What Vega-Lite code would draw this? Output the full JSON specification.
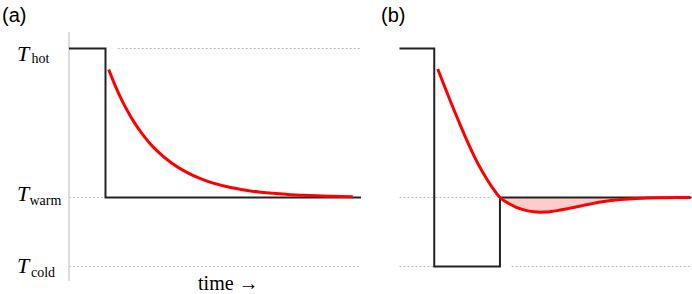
{
  "$schema": "https://vega.github.io/schema/vega-lite/v6.json",
  "padding": 0,
  "autosize": {"type": "pad"},
  "background": "white",
  "spacing": 0,
  "bounds": "flush",
  "config": {"view": {"stroke": null}},
  "datasets": {
    "stepA": [{"t": 0, "v": 1}, {"t": 1.25, "v": 0}, {"t": 10, "v": 0}],
    "stepB": [{"t": 0, "v": 1}, {"t": 1.19, "v": -0.463}, {"t": 3.44, "v": 0}, {"t": 10, "v": 0}],
    "guidesA": [{"t": 1.67, "t2": 10, "v": 1}, {"t": 0, "t2": 1.25, "v": 0}, {"t": 0, "t2": 10, "v": -0.463}],
    "guidesB": [{"t": 0, "t2": 3.1, "v": 0}, {"t": 0, "t2": 1.19, "v": -0.463}, {"t": 3.84, "t2": 10, "v": -0.463}],
    "axisA": [{"t": 0, "v": 1.111, "v2": -0.56}],
    "levels": [{"sub": "hot", "v": 1}, {"sub": "warm", "v": 0}, {"sub": "cold", "v": -0.463}],
    "redA": [
      {"t": 1.36, "v": 0.859}, {"t": 1.6, "v": 0.742}, {"t": 1.8, "v": 0.657}, {"t": 2.0, "v": 0.582},
      {"t": 2.25, "v": 0.499}, {"t": 2.5, "v": 0.429}, {"t": 2.75, "v": 0.368}, {"t": 3.0, "v": 0.316},
      {"t": 3.5, "v": 0.233}, {"t": 4.0, "v": 0.172}, {"t": 4.5, "v": 0.127}, {"t": 5.0, "v": 0.093},
      {"t": 5.5, "v": 0.069}, {"t": 6.0, "v": 0.051}, {"t": 6.5, "v": 0.037}, {"t": 7.0, "v": 0.028},
      {"t": 7.5, "v": 0.02}, {"t": 8.0, "v": 0.015}, {"t": 8.5, "v": 0.011}, {"t": 9.0, "v": 0.008},
      {"t": 9.72, "v": 0.005}
    ],
    "redB": [
      {"t": 1.31, "v": 0.862}, {"t": 1.55, "v": 0.742}, {"t": 1.82, "v": 0.609}, {"t": 2.05, "v": 0.501},
      {"t": 2.3, "v": 0.386}, {"t": 2.6, "v": 0.26}, {"t": 2.87, "v": 0.162}, {"t": 3.15, "v": 0.075},
      {"t": 3.44, "v": 0.0}, {"t": 3.6, "v": -0.024}, {"t": 3.8, "v": -0.047}, {"t": 4.0, "v": -0.066},
      {"t": 4.2, "v": -0.08}, {"t": 4.4, "v": -0.09}, {"t": 4.6, "v": -0.096}, {"t": 4.8, "v": -0.099},
      {"t": 5.0, "v": -0.098}, {"t": 5.2, "v": -0.094}, {"t": 5.4, "v": -0.088}, {"t": 5.6, "v": -0.081},
      {"t": 5.8, "v": -0.073}, {"t": 6.0, "v": -0.065}, {"t": 6.3, "v": -0.053}, {"t": 6.6, "v": -0.041},
      {"t": 7.0, "v": -0.027}, {"t": 7.5, "v": -0.015}, {"t": 8.0, "v": -0.008}, {"t": 8.5, "v": -0.004},
      {"t": 9.0, "v": -0.0015}, {"t": 9.5, "v": -0.0005}, {"t": 9.95, "v": 0}
    ],
    "titles": [{"label": "(a)"}],
    "titlesB": [{"label": "(b)"}],
    "xlabel": [{"label": "time →"}]
  },
  "hconcat": [
    {
      "width": 380,
      "height": 294,
      "layer": [
        {"data": {"name": "guidesA"}, "mark": {"type": "rule", "color": "#bbbbbb", "strokeWidth": 1, "strokeDash": [2, 2]},
         "encoding": {
           "x": {"field": "t", "type": "quantitative", "axis": null, "scale": {"domain": [-2.363, 10.651], "nice": false, "zero": false}},
           "x2": {"field": "t2"},
           "y": {"field": "v", "type": "quantitative", "axis": null, "scale": {"domain": [-0.6477, 1.3255], "nice": false, "zero": false}}
         }},
        {"data": {"name": "axisA"}, "mark": {"type": "rule", "color": "#dddddd", "strokeWidth": 2},
         "encoding": {
           "x": {"field": "t", "type": "quantitative"},
           "y": {"field": "v", "type": "quantitative"},
           "y2": {"field": "v2"}
         }},
        {"data": {"name": "stepA"}, "mark": {"type": "line", "interpolate": "step-after", "color": "#222222", "strokeWidth": 2},
         "encoding": {"x": {"field": "t", "type": "quantitative"}, "y": {"field": "v", "type": "quantitative"}}},
        {"data": {"name": "redA"}, "mark": {"type": "line", "interpolate": "monotone", "color": "#ff0000", "strokeWidth": 3},
         "encoding": {"x": {"field": "t", "type": "quantitative"}, "y": {"field": "v", "type": "quantitative"}}},
        {"data": {"name": "levels"}, "transform": [{"filter": "datum.sub === 'hot'"}],
         "mark": {"type": "text", "font": "Liberation Serif", "fontStyle": "italic", "fontSize": 22, "align": "left", "baseline": "alphabetic", "dx": -52, "dy": 13, "color": "black"},
         "encoding": {"x": {"datum": 0, "type": "quantitative"}, "y": {"field": "v", "type": "quantitative"}, "text": {"value": "T"}}},
        {"data": {"name": "levels"}, "transform": [{"filter": "datum.sub === 'hot'"}],
         "mark": {"type": "text", "font": "Liberation Serif", "fontSize": 14, "align": "left", "baseline": "alphabetic", "dx": -37.5, "dy": 15, "color": "black"},
         "encoding": {"x": {"datum": 0, "type": "quantitative"}, "y": {"field": "v", "type": "quantitative"}, "text": {"field": "sub"}}},
        {"data": {"name": "levels"}, "transform": [{"filter": "datum.sub === 'warm'"}],
         "mark": {"type": "text", "font": "Liberation Serif", "fontStyle": "italic", "fontSize": 22, "align": "left", "baseline": "alphabetic", "dx": -52, "dy": 3.5, "color": "black"},
         "encoding": {"x": {"datum": 0, "type": "quantitative"}, "y": {"field": "v", "type": "quantitative"}, "text": {"value": "T"}}},
        {"data": {"name": "levels"}, "transform": [{"filter": "datum.sub === 'warm'"}],
         "mark": {"type": "text", "font": "Liberation Serif", "fontSize": 14, "align": "left", "baseline": "alphabetic", "dx": -39.5, "dy": 7.5, "color": "black"},
         "encoding": {"x": {"datum": 0, "type": "quantitative"}, "y": {"field": "v", "type": "quantitative"}, "text": {"field": "sub"}}},
        {"data": {"name": "levels"}, "transform": [{"filter": "datum.sub === 'cold'"}],
         "mark": {"type": "text", "font": "Liberation Serif", "fontStyle": "italic", "fontSize": 22, "align": "left", "baseline": "alphabetic", "dx": -52, "dy": 7, "color": "black"},
         "encoding": {"x": {"datum": 0, "type": "quantitative"}, "y": {"field": "v", "type": "quantitative"}, "text": {"value": "T"}}},
        {"data": {"name": "levels"}, "transform": [{"filter": "datum.sub === 'cold'"}],
         "mark": {"type": "text", "font": "Liberation Serif", "fontSize": 14, "align": "left", "baseline": "alphabetic", "dx": -38, "dy": 11, "color": "black"},
         "encoding": {"x": {"datum": 0, "type": "quantitative"}, "y": {"field": "v", "type": "quantitative"}, "text": {"field": "sub"}}},
        {"data": {"name": "xlabel"},
         "mark": {"type": "text", "font": "Liberation Serif", "fontSize": 20, "align": "center", "baseline": "alphabetic", "color": "black"},
         "encoding": {"x": {"datum": 5.455, "type": "quantitative"}, "y": {"datum": -0.621, "type": "quantitative"}, "text": {"field": "label"}}},
        {"data": {"name": "titles"},
         "mark": {"type": "text", "font": "Liberation Sans", "fontSize": 20, "align": "left", "baseline": "alphabetic", "dx": -67, "dy": -26, "color": "black"},
         "encoding": {"x": {"datum": 0, "type": "quantitative"}, "y": {"datum": 1, "type": "quantitative"}, "text": {"field": "label"}}}
      ]
    },
    {
      "width": 312,
      "height": 294,
      "layer": [
        {"data": {"name": "guidesB"}, "mark": {"type": "rule", "color": "#bbbbbb", "strokeWidth": 1, "strokeDash": [2, 2]},
         "encoding": {
           "x": {"field": "t", "type": "quantitative", "axis": null, "scale": {"domain": [-0.668, 10.017], "nice": false, "zero": false}},
           "x2": {"field": "t2"},
           "y": {"field": "v", "type": "quantitative", "axis": null, "scale": {"domain": [-0.6477, 1.3255], "nice": false, "zero": false}}
         }},
        {"data": {"name": "redB"}, "transform": [{"filter": "datum.t >= 3.44"}],
         "mark": {"type": "area", "interpolate": "monotone", "color": "#ffcccc", "opacity": 1},
         "encoding": {"x": {"field": "t", "type": "quantitative"}, "y": {"field": "v", "type": "quantitative"}, "y2": {"datum": 0}}},
        {"data": {"name": "stepB"}, "mark": {"type": "line", "interpolate": "step-after", "color": "#222222", "strokeWidth": 2},
         "encoding": {"x": {"field": "t", "type": "quantitative"}, "y": {"field": "v", "type": "quantitative"}}},
        {"data": {"name": "redB"}, "mark": {"type": "line", "interpolate": "monotone", "color": "#ff0000", "strokeWidth": 3},
         "encoding": {"x": {"field": "t", "type": "quantitative"}, "y": {"field": "v", "type": "quantitative"}}},
        {"data": {"name": "titlesB"},
         "mark": {"type": "text", "font": "Liberation Sans", "fontSize": 20, "align": "left", "baseline": "alphabetic", "dx": -18.5, "dy": -26, "color": "black"},
         "encoding": {"x": {"datum": 0, "type": "quantitative"}, "y": {"datum": 1, "type": "quantitative"}, "text": {"field": "label"}}}
      ]
    }
  ]
}
